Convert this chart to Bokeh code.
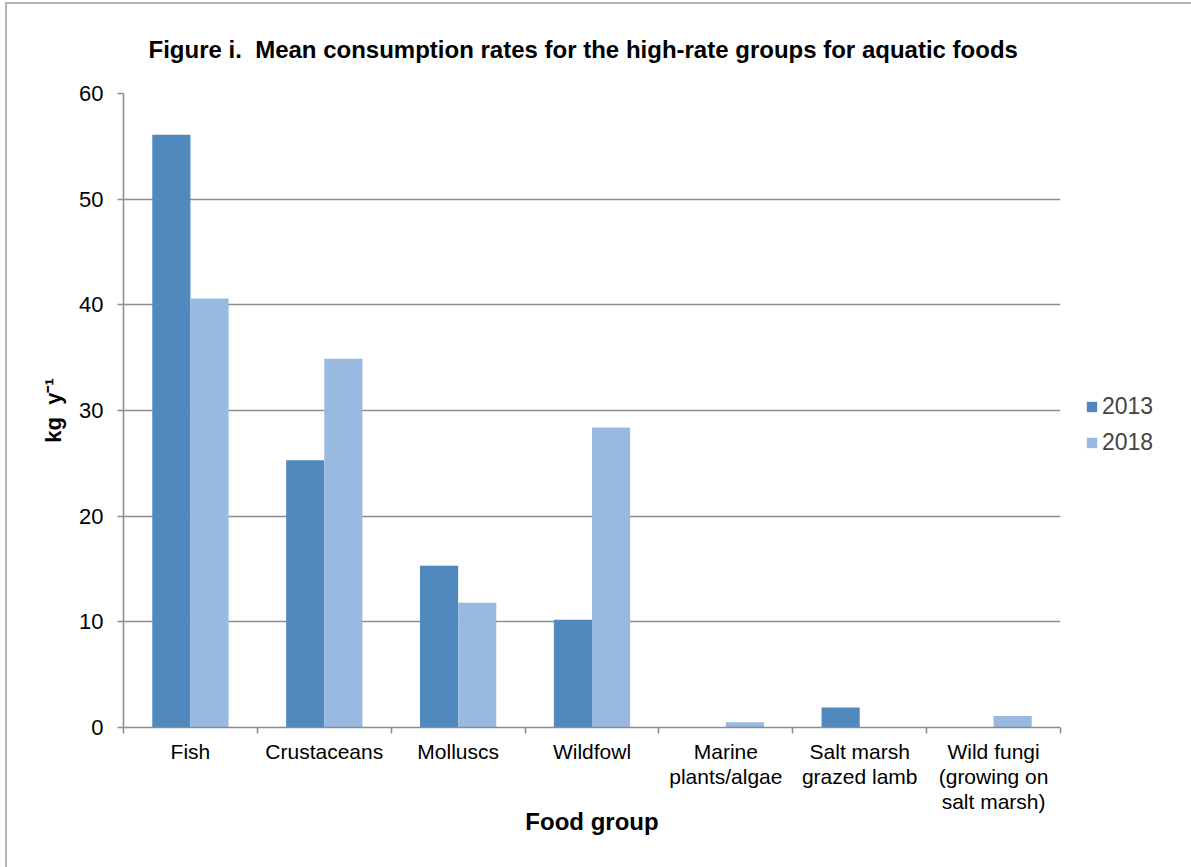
from bokeh.plotting import figure
from bokeh.models import (ColumnDataSource, FixedTicker, Legend, LegendItem,
                          Range1d)
from bokeh.transform import dodge
from bokeh.embed import file_html
from bokeh.resources import INLINE

# Mean consumption rates (kg per year) of the high-rate groups
food_groups = ["Fish", "Crustaceans", "Molluscs", "Wildfowl",
               "Marine\nplants/algae", "Salt marsh\ngrazed lamb",
               "Wild fungi\n(growing on\nsalt marsh)"]
rate_2013 = [56.1, 25.3, 15.3, 10.2, 0.05, 1.9, 0.0]
rate_2018 = [40.6, 34.9, 11.8, 28.4, 0.5, 0.0, 1.1]
years = ["2013", "2018"]
y_ticks = [0, 10, 20, 30, 40, 50, 60]

FONT = "Liberation Sans"
COL_2013 = "#4F89BD"
COL_2018 = "#98B9E0"
GREY = "#8C8C8C"
NBSP = "\u00a0"

positions = [i + 0.5 for i in range(len(food_groups))]
source = ColumnDataSource(dict(pos=positions, r2013=rate_2013, r2018=rate_2018))

p = figure(frame_width=937, frame_height=634,
           min_border_left=116, min_border_right=131,
           min_border_top=89, min_border_bottom=140,
           x_range=Range1d(0, len(food_groups)), y_range=Range1d(0, 60),
           output_backend="svg", toolbar_location=None,
           background_fill_color="white", border_fill_color="white")
p.outline_line_color = None
p.styles = {"margin-left": "5px", "margin-top": "2px",
            "border-left": "2px solid #B3B3B3", "border-top": "2px solid #B3B3B3"}

bw = 0.285
b13 = p.vbar(x=dodge("pos", -bw / 2, range=p.x_range), top="r2013", width=bw,
             source=source, fill_color=COL_2013, line_color=None)
b18 = p.vbar(x=dodge("pos", bw / 2, range=p.x_range), top="r2018", width=bw,
             source=source, fill_color=COL_2018, line_color=None)

# title
p.title.text = ("Figure i." + NBSP + " Mean consumption rates for the high-rate "
                "groups for aquatic foods")
p.title.text_font = FONT
p.title.text_font_size = "24px"
p.title.text_font_style = "bold"
p.title.text_color = "black"
p.title.align = "left"
p.title.vertical_align = "middle"
p.title.offset = 25
p.title.standoff = 60

# x axis: category labels at the centres, ticks at the boundaries
xa = p.xaxis[0]
xa.ticker = FixedTicker(ticks=positions, minor_ticks=list(range(len(food_groups) + 1)))
xa.major_label_overrides = {pos: name for pos, name in zip(positions, food_groups)}
xa.major_tick_out = 0
xa.major_tick_in = 0
xa.minor_tick_out = 6
xa.minor_tick_in = 0
xa.minor_tick_line_color = GREY
xa.minor_tick_line_width = 1.5
xa.axis_line_color = GREY
xa.axis_line_width = 1.5
xa.major_label_text_font = FONT
xa.major_label_text_font_size = "21px"
xa.major_label_text_color = "black"
xa.major_label_text_line_height = 1.1
xa.major_label_standoff = 6
xa.axis_label = "Food group"
xa.axis_label_text_font = FONT
xa.axis_label_text_font_size = "24px"
xa.axis_label_text_font_style = "bold"
xa.axis_label_text_color = "black"
xa.axis_label_standoff = -8

ya = p.yaxis[0]
ya.ticker = FixedTicker(ticks=y_ticks)
ya.minor_tick_line_color = None
ya.major_tick_out = 6
ya.major_tick_in = 0
ya.major_tick_line_color = GREY
ya.major_tick_line_width = 1.5
ya.axis_line_color = GREY
ya.axis_line_width = 1.5
ya.major_label_text_font = FONT
ya.major_label_text_font_size = "22px"
ya.major_label_text_color = "black"
ya.major_label_standoff = 14
ya.axis_label = "kg" + NBSP + " y\u207b\u00b9"
ya.axis_label_text_font = FONT
ya.axis_label_text_font_size = "22px"
ya.axis_label_text_font_style = "bold"
ya.axis_label_text_color = "black"
ya.axis_label_standoff = 10

p.xgrid.grid_line_color = None
p.ygrid.grid_line_color = GREY
p.ygrid.grid_line_width = 1.5
p.ygrid.ticker = FixedTicker(ticks=y_ticks)

legend = Legend(items=[LegendItem(label=years[0], renderers=[b13]),
                       LegendItem(label=years[1], renderers=[b18])],
                location=(25, 271), orientation="vertical",
                glyph_width=13, glyph_height=13, label_height=24, spacing=9,
                padding=0, margin=0, label_standoff=4,
                label_text_font=FONT, label_text_font_size="23px",
                border_line_color=None, background_fill_alpha=0)
p.add_layout(legend, "right")

open("out.html", "w").write(file_html(p, INLINE))
